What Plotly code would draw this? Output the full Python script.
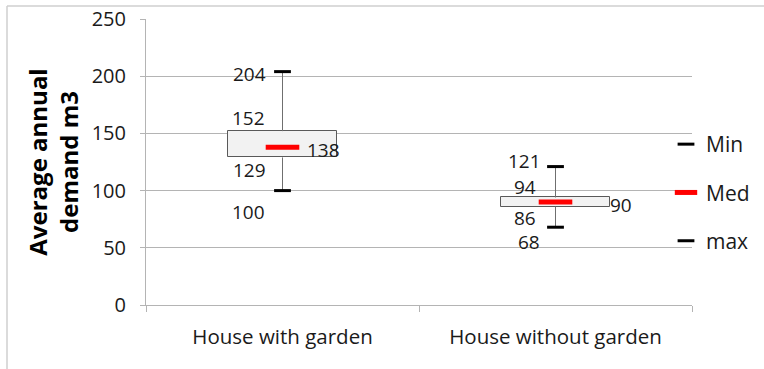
import plotly.graph_objects as go

# ---- data ----
categories = ["House with garden", "House without garden"]
maxs = [204, 121]
q3 = [152, 94]
medians = [138, 90]
q1 = [129, 86]
mins = [100, 68]
y_ticks = [0, 50, 100, 150, 200, 250]

# ---- styles ----
FONT = "Open Sans"
GRID = "#b4b4b4"

fig = go.Figure()

# whiskers (from box edges to the extremes)
wx, wy = [], []
for c, lo, a, b, hi in zip(categories, mins, q1, q3, maxs):
    wx += [c, c, None, c, c, None]
    wy += [b, hi, None, lo, a, None]
fig.add_trace(go.Scatter(x=wx, y=wy, mode="lines", line=dict(color="#6f6f6f", width=1),
                         showlegend=False, hoverinfo="skip"))

# boxes (q1 .. q3)
fig.add_trace(go.Bar(x=categories, y=[b - a for a, b in zip(q1, q3)], base=q1, width=0.396,
                     marker=dict(color="#f2f2f2", line=dict(color="#595959", width=1)),
                     showlegend=False, hoverinfo="skip"))

# caps + median
fig.add_trace(go.Scatter(x=categories, y=mins, mode="markers", name="Min", legendgroup="a",
                         marker=dict(symbol="line-ew", size=12, line=dict(color="black", width=3))))
fig.add_trace(go.Scatter(x=categories, y=medians, mode="markers", name="Med", legendgroup="b",
                         marker=dict(symbol="line-ew", size=24, line=dict(color="#ff0000", width=5))))
fig.add_trace(go.Scatter(x=categories, y=maxs, mode="markers", name="max", legendgroup="c",
                         marker=dict(symbol="line-ew", size=12, line=dict(color="black", width=3))))

# data labels (value, anchor, xshift, yshift) per category
label_specs = [
    [(maxs[0], "right", -15, -2), (q3[0], "right", -16, 13), (medians[0], "left", 22, -3),
     (q1[0], "right", -15, -13), (mins[0], "right", -16, -21)],
    [(maxs[1], "right", -13, 6), (q3[1], "right", -18, 10), (medians[1], "left", 52, -3),
     (q1[1], "right", -18, -11), (mins[1], "right", -14, -15)],
]
for c, specs in zip(categories, label_specs):
    for v, anchor, xs, ys in specs:
        fig.add_annotation(x=c, y=v, text=str(v), showarrow=False, xanchor=anchor, yanchor="middle",
                           xshift=xs, yshift=ys, font=dict(family=FONT, size=19, color="#1a1a1a"))

L, R, T, B = 146, 72, 19, 64
W, H = 764, 369
pw, ph = W - L - R, H - T - B

# outer chart frame (top and left edges visible)
fx0, fy1 = (7 - L) / pw, (H - 6 - B) / ph
fig.add_shape(type="line", xref="paper", yref="paper", x0=fx0, x1=(W - L) / pw, y0=fy1, y1=fy1,
              line=dict(color="#cfcfcf", width=1.5))
fig.add_shape(type="line", xref="paper", yref="paper", x0=fx0, x1=fx0, y0=-B / ph, y1=fy1,
              line=dict(color="#cfcfcf", width=1.5))

fig.update_layout(
    width=W, height=H,
    margin=dict(l=L, r=R, t=T, b=B, autoexpand=False),
    paper_bgcolor="white", plot_bgcolor="white",
    font=dict(family=FONT, size=19, color="#1a1a1a"),
    showlegend=True,
    legend=dict(x=(666 - L) / pw, xanchor="left", y=(H - B - 124) / ph, yanchor="top",
                bgcolor="rgba(0,0,0,0)", tracegroupgap=18, font=dict(size=21),
                itemsizing="trace"),
    bargap=0,
    xaxis=dict(type="category", range=[-0.5, 1.5], showline=True, linecolor=GRID, linewidth=1,
               ticks="outside", tickson="boundaries", ticklen=6, tickcolor=GRID,
               showgrid=False, tickfont=dict(size=20.5), automargin=False, ticklabelstandoff=13),
    yaxis=dict(range=[0, 250], tickvals=y_ticks, showline=True, linecolor=GRID, linewidth=1,
               ticks="outside", ticklen=5, tickcolor=GRID, gridcolor=GRID, gridwidth=1,
               zeroline=False, ticklabelstandoff=10, tickfont=dict(size=20), automargin=False,
               title=dict(text="Average annual<br>demand m3", standoff=6,
                          font=dict(family=FONT, size=24, color="black", weight="bold"))),
)

fig.write_html("out.html", config={"displayModeBar": False},
               post_script="document.body.style.margin='0px';")
